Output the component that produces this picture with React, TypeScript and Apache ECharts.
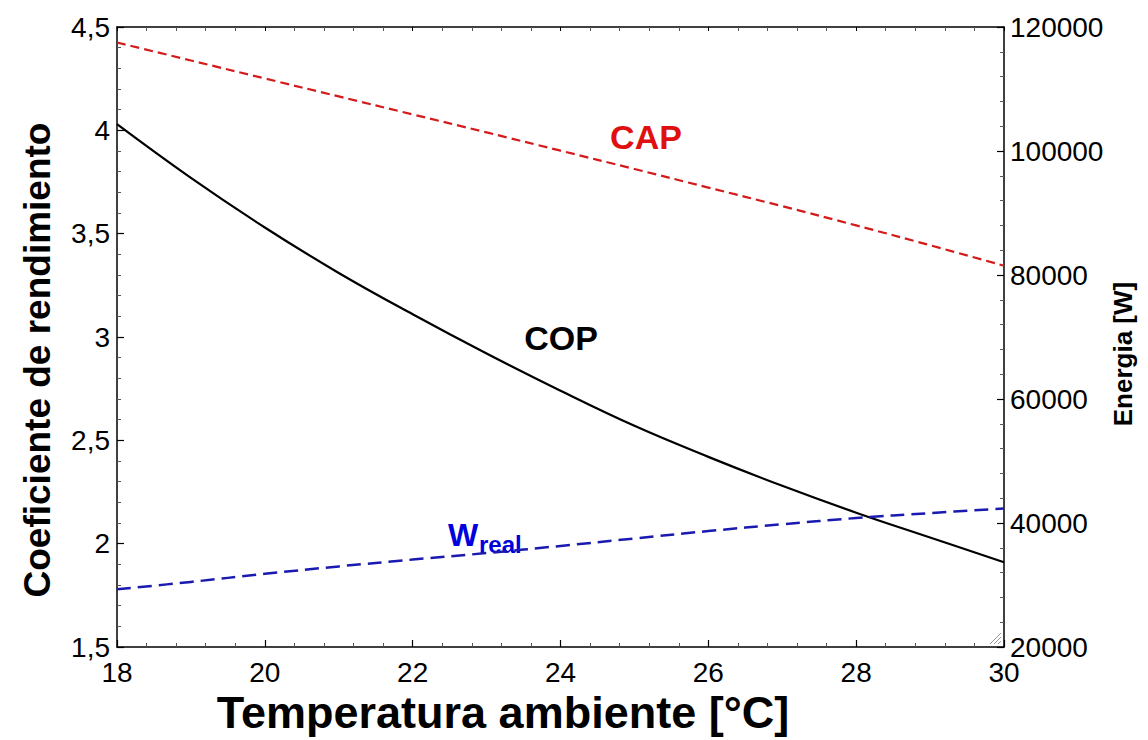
import React, { useEffect, useRef } from "react";
import * as echarts from "echarts";

const temps = [18, 19, 20, 21, 22, 23, 24, 25, 26, 27, 28, 29, 30];
const copValues = [4.03, 3.77, 3.53, 3.31, 3.11, 2.92, 2.74, 2.57, 2.42, 2.28, 2.15, 2.03, 1.91];
const capValues = [117500, 114600, 111700, 108800, 105900, 103000, 100050, 97100, 94100, 91100, 88000, 84800, 81500];
const wrealValues = [29300, 30500, 31800, 33000, 34100, 35150, 36300, 37500, 38700, 39800, 40800, 41600, 42350];

const xTitle = "Temperatura ambiente [°C]";
const yLeftTitle = "Coeficiente de rendimiento";
const yRightTitle = "Energia [W]";

const FONT = "'Liberation Sans', Arial, sans-serif";

export default function App() {
  const ref = useRef<HTMLDivElement>(null);
  useEffect(() => {
    document.body.style.margin = "0";
    const chart = echarts.init(ref.current!, null, { renderer: "svg" });
    const pairs = (vals: number[]) => temps.map((t, i) => [t, vals[i]]);
    const tickCommon = {
      axisLine: { show: true, lineStyle: { color: "#000", width: 1.5 } },
      axisTick: { show: true, inside: true, length: 7, lineStyle: { color: "#000", width: 1.2 } },
      minorTick: { show: true, splitNumber: 5, length: 4, lineStyle: { color: "#555", width: 1 } },
      splitLine: { show: false },
      minorSplitLine: { show: false },
    };
    chart.setOption({
      animation: false,
      backgroundColor: "#fff",
      textStyle: { fontFamily: FONT },
      grid: { left: 117, right: 144, top: 27, bottom: 93, containLabel: false },
      xAxis: [
        {
          type: "value", position: "bottom", min: 18, max: 30, interval: 2,
          ...tickCommon,
          axisLabel: { fontSize: 28, color: "#000", margin: 11, fontFamily: FONT },
        },
        {
          type: "value", position: "top", min: 18, max: 30, interval: 2,
          ...tickCommon,
          axisTick: { show: true, inside: true, length: 4, lineStyle: { color: "#000", width: 1 } },
          axisLabel: { show: false },
        },
      ],
      yAxis: [
        {
          type: "value", position: "left", min: 1.5, max: 4.5, interval: 0.5,
          ...tickCommon,
          axisLabel: {
            fontSize: 28, color: "#000", margin: 7, fontFamily: FONT,
            formatter: (v: number) => String(v).replace(".", ","),
          },
        },
        {
          type: "value", position: "right", min: 20000, max: 120000, interval: 20000,
          ...tickCommon,
          axisLabel: {
            fontSize: 28, color: "#000", margin: 6, fontFamily: FONT,
            formatter: (v: number) => String(v),
          },
        },
      ],
      series: [
        {
          name: "COP", type: "line", xAxisIndex: 0, yAxisIndex: 0, data: pairs(copValues),
          smooth: 0.4, showSymbol: false,
          lineStyle: { color: "#000", width: 2.2, type: "solid" },
        },
        {
          name: "CAP", type: "line", xAxisIndex: 0, yAxisIndex: 1, data: pairs(capValues),
          smooth: 0.4, showSymbol: false,
          lineStyle: { color: "#d41a1a", width: 2.2, type: [9, 5] },
        },
        {
          name: "Wreal", type: "line", xAxisIndex: 0, yAxisIndex: 1, data: pairs(wrealValues),
          smooth: 0.4, showSymbol: false,
          lineStyle: { color: "#1a1ab0", width: 2.5, type: [14, 7] },
        },
      ],
      graphic: [
        {
          type: "text", x: 503, y: 712,
          style: { text: xTitle, font: `bold 45px ${FONT}`, fill: "#000", align: "center", verticalAlign: "middle" },
        },
        {
          type: "text", x: 37, y: 360, rotation: Math.PI / 2,
          style: { text: yLeftTitle, font: `bold 37px ${FONT}`, fill: "#000", align: "center", verticalAlign: "middle" },
        },
        {
          type: "text", x: 1123, y: 354, rotation: Math.PI / 2,
          style: { text: yRightTitle, font: `bold 26px ${FONT}`, fill: "#000", align: "center", verticalAlign: "middle" },
        },
        {
          type: "text", x: 646, y: 137,
          style: { text: "CAP", font: `bold 34px ${FONT}`, fill: "#e01010", align: "center", verticalAlign: "middle" },
        },
        {
          type: "text", x: 561, y: 338,
          style: { text: "COP", font: `bold 34px ${FONT}`, fill: "#000", align: "center", verticalAlign: "middle" },
        },
        {
          type: "text", x: 448, y: 535,
          style: { text: "W", font: `bold 32px ${FONT}`, fill: "#0000dd", align: "left", verticalAlign: "middle" },
        },
        {
          type: "text", x: 479, y: 544,
          style: { text: "real", font: `bold 24px ${FONT}`, fill: "#0000dd", align: "left", verticalAlign: "middle" },
        },
        { type: "line", shape: { x1: 990, y1: 644, x2: 1001, y2: 633 }, style: { stroke: "#999", lineWidth: 1 } },
        { type: "line", shape: { x1: 994, y1: 644, x2: 1001, y2: 637 }, style: { stroke: "#999", lineWidth: 1 } },
        { type: "line", shape: { x1: 998, y1: 644, x2: 1001, y2: 641 }, style: { stroke: "#999", lineWidth: 1 } },
      ],
    });
    return () => chart.dispose();
  }, []);
  return <div ref={ref} style={{ width: 1148, height: 740 }} />;
}
